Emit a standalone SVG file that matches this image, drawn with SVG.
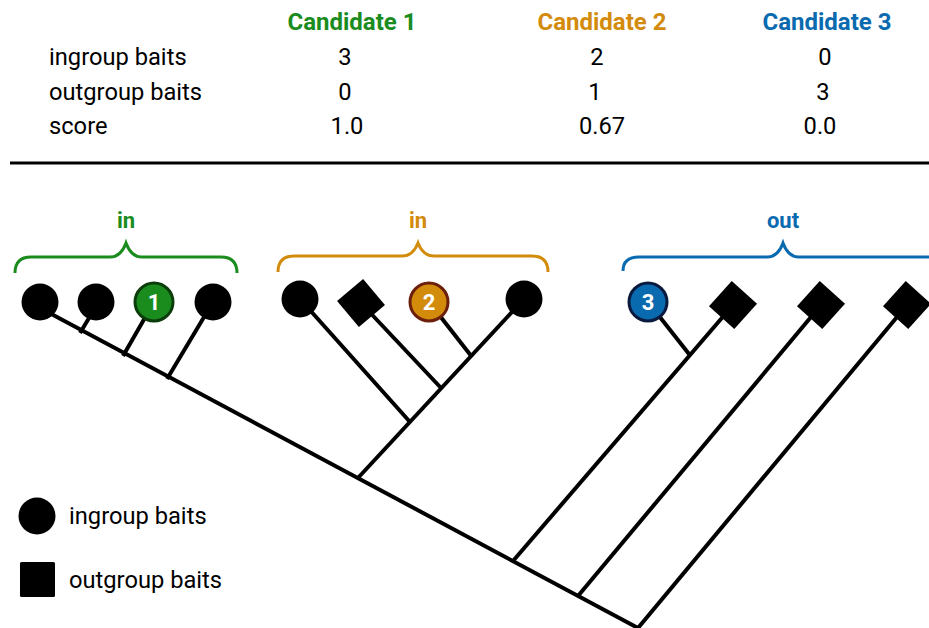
<svg xmlns="http://www.w3.org/2000/svg" width="929" height="628" viewBox="0 0 929 628">
<style>
text{font-family:Roboto,"Liberation Sans",sans-serif;fill:#000}
.row{font-size:23.7px}
.hd{font-size:24px;font-weight:bold}
.lbl{font-size:22px;font-weight:bold}
.num{font-size:22px;font-weight:bold;fill:#fff}
.edge{stroke:#000;stroke-width:4;fill:none}
.brace{fill:none;stroke-width:3}
.bait{fill:#000}
</style>
<rect width="929" height="628" fill="#fff"/>
<g id="table">
<text class="hd" x="352" y="30" text-anchor="middle" style="fill:#1a8c1e">Candidate 1</text>
<text class="hd" x="602" y="30" text-anchor="middle" style="fill:#d38b0c">Candidate 2</text>
<text class="hd" x="827" y="30" text-anchor="middle" style="fill:#0a6ab0">Candidate 3</text>
<text class="row" x="49" y="65">ingroup baits</text>
<text class="row" x="49" y="100">outgroup baits</text>
<text class="row" x="49" y="134">score</text>
<text class="row" x="345" y="65" text-anchor="middle">3</text>
<text class="row" x="345" y="100" text-anchor="middle">0</text>
<text class="row" x="347" y="134" text-anchor="middle">1.0</text>
<text class="row" x="597" y="65" text-anchor="middle">2</text>
<text class="row" x="595" y="100" text-anchor="middle">1</text>
<text class="row" x="602" y="134" text-anchor="middle">0.67</text>
<text class="row" x="825" y="65" text-anchor="middle">0</text>
<text class="row" x="823" y="100" text-anchor="middle">3</text>
<text class="row" x="820" y="134" text-anchor="middle">0.0</text>
<line x1="10" y1="163" x2="929" y2="163" stroke="#000" stroke-width="3"/>
</g>
<g id="connectors">
<line class="edge" x1="42" y1="309" x2="638" y2="628"/>
<line class="edge" x1="92" y1="313" x2="80" y2="333"/>
<line class="edge" x1="154" y1="302" x2="123" y2="356"/>
<line class="edge" x1="213" y1="302" x2="167" y2="379"/>
<line class="edge" x1="524" y1="299" x2="357" y2="479"/>
<line class="edge" x1="300" y1="299" x2="410" y2="422"/>
<line class="edge" x1="361" y1="303" x2="442" y2="389"/>
<line class="edge" x1="429" y1="302" x2="472" y2="357"/>
<line class="edge" x1="648" y1="302" x2="689" y2="354"/>
<line class="edge" x1="733" y1="305" x2="513" y2="561"/>
<line class="edge" x1="821" y1="305" x2="578" y2="596"/>
<line class="edge" x1="907" y1="305" x2="638" y2="628"/>
</g>
<g id="brace-in-1">
<path class="brace" stroke="#1a8c1e" d="M15,273 Q15,257 31,257 L110,257 Q121,257 126,243 Q131,257 142,257 L221,257 Q237,257 237,273"/>
<text class="lbl" x="126" y="228" text-anchor="middle" style="fill:#1a8c1e">in</text>
</g>
<g id="brace-in-2">
<path class="brace" stroke="#d38b0c" d="M278,272 Q278,256 294,256 L402,256 Q413,256 418,243 Q423,256 434,256 L532,256 Q548,256 548,272"/>
<text class="lbl" x="418" y="228" text-anchor="middle" style="fill:#d38b0c">in</text>
</g>
<g id="brace-out">
<path class="brace" stroke="#0a6ab0" d="M623,271 Q623,257 639,257 L767,257 Q778,257 783,243 Q788,257 799,257 L940,257"/>
<text class="lbl" x="783" y="228" text-anchor="middle" style="fill:#0a6ab0">out</text>
</g>
<g id="leaf-a1"><circle class="bait" cx="40" cy="302" r="18.5"/></g>
<g id="leaf-a2"><circle class="bait" cx="96" cy="302" r="18.5"/></g>
<g id="candidate-1"><circle cx="154" cy="302" r="19" fill="#1a8c1e" stroke="#0b3d0b" stroke-width="3"/><text class="num" x="154" y="310" text-anchor="middle">1</text></g>
<g id="leaf-a4"><circle class="bait" cx="213" cy="302" r="18.5"/></g>
<g id="leaf-b1"><circle class="bait" cx="300" cy="299" r="18.5"/></g>
<g id="leaf-b2"><rect class="bait" x="-17" y="-17" width="34" height="34" transform="translate(361,303) rotate(-40)"/></g>
<g id="candidate-2"><circle cx="429" cy="302" r="19" fill="#d38b0c" stroke="#6b1f0c" stroke-width="3"/><text class="num" x="429" y="310" text-anchor="middle">2</text></g>
<g id="leaf-b4"><circle class="bait" cx="524" cy="299" r="18.5"/></g>
<g id="candidate-3"><circle cx="648" cy="302" r="19" fill="#0a6ab0" stroke="#0a1a3d" stroke-width="3"/><text class="num" x="648" y="310" text-anchor="middle">3</text></g>
<g id="leaf-c2"><rect class="bait" x="-17" y="-17" width="34" height="34" transform="translate(733,305) rotate(42)"/></g>
<g id="leaf-c3"><rect class="bait" x="-17" y="-17" width="34" height="34" transform="translate(821,305) rotate(42)"/></g>
<g id="leaf-c4"><rect class="bait" x="-17" y="-17" width="34" height="34" transform="translate(907,305) rotate(42)"/></g>
<g id="legend">
<circle class="bait" cx="37" cy="516" r="18.5"/>
<text class="row" x="69" y="524">ingroup baits</text>
<rect class="bait" x="20" y="562" width="35" height="35" rx="1.5"/>
<text class="row" x="69" y="588">outgroup baits</text>
</g>
</svg>
